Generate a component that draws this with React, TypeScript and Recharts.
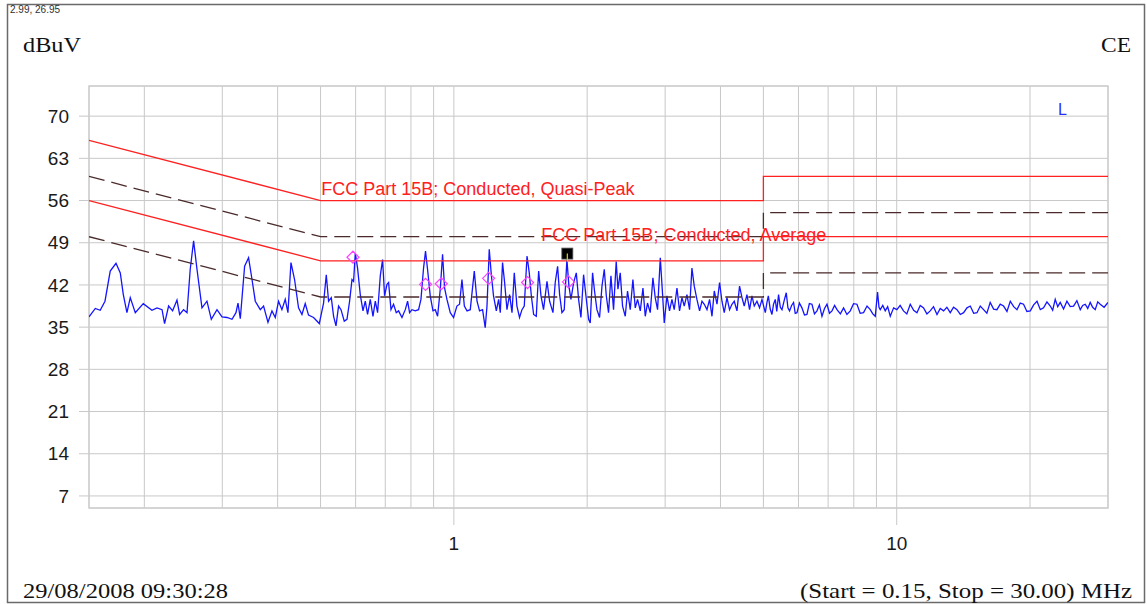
import React from 'react'
import {
  ComposedChart,
  Line,
  Scatter,
  XAxis,
  YAxis,
  CartesianGrid,
  ReferenceArea,
  ReferenceDot,
} from 'recharts'

// measured trace, [MHz, dBuV]
const sweepLow: [number, number][] = [
  [0.150, 36.7], [0.155, 38.1], [0.159, 37.8], [0.163, 39.3], [0.1675, 44.3], [0.1726, 45.6],
  [0.1765, 44.0], [0.1793, 40.4], [0.1827, 37.4], [0.1859, 39.9], [0.1908, 37.4], [0.1989, 38.9],
  [0.2081, 37.8], [0.2136, 38.2], [0.2193, 37.9], [0.2222, 35.6], [0.2269, 38.5], [0.2317, 37.7],
  [0.2370, 39.5], [0.2403, 37.1], [0.2453, 37.9], [0.2497, 37.4], [0.2539, 44.6], [0.2584, 49.3],
  [0.2630, 44.6], [0.2699, 38.2], [0.2770, 39.3], [0.2833, 36.3], [0.2918, 37.9], [0.2995, 36.7],
  [0.3074, 36.6], [0.3155, 36.3], [0.3221, 37.4], [0.3255, 39.0], [0.3294, 36.4], [0.3369, 45.1],
  [0.3439, 46.5], [0.3501, 42.9], [0.3561, 39.3], [0.3655, 37.9], [0.3718, 38.5], [0.3804, 35.8],
  [0.3884, 37.7], [0.3951, 36.6], [0.4019, 39.3], [0.4090, 37.9], [0.4161, 39.6], [0.4220, 37.4],
  [0.4287, 45.7], [0.4368, 42.9], [0.4459, 38.2], [0.4539, 37.1], [0.4617, 38.9], [0.4697, 37.0],
  [0.4822, 36.6], [0.4967, 35.6],
]

const sweepMid: [number, number][] = [
  [0.5079, 39.0], [0.5151, 43.7], [0.5213, 39.3], [0.5287, 39.9], [0.5351, 36.8], [0.5418, 35.2],
  [0.5491, 38.5], [0.5561, 37.9], [0.5656, 36.0], [0.5736, 36.3], [0.5815, 39.3], [0.5888, 42.9],
  [0.5937, 42.6], [0.5990, 47.3], [0.6061, 44.8], [0.6147, 40.4], [0.6234, 37.7], [0.6309, 39.3],
  [0.6385, 37.1], [0.6475, 39.6], [0.6567, 36.8], [0.6646, 39.3], [0.6726, 37.4], [0.6821, 43.5],
  [0.6903, 46.2], [0.6975, 40.2], [0.7063, 42.1], [0.7122, 42.4], [0.7211, 37.9], [0.7308, 38.8],
  [0.7412, 37.4], [0.7501, 37.7], [0.7635, 36.6], [0.7768, 37.9], [0.7862, 39.3], [0.7943, 37.4],
  [0.8043, 37.9], [0.8180, 37.7], [0.8323, 37.9], [0.8427, 39.6], [0.8542, 44.8], [0.8630, 47.6],
  [0.8721, 44.6], [0.8844, 40.2], [0.8970, 37.7], [0.9078, 37.9], [0.9189, 36.8], [0.9318, 41.3],
  [0.9430, 47.1], [0.9528, 41.5], [0.9647, 39.6], [0.9815, 37.4], [0.9984, 36.6], [1.016, 38.5],
  [1.030, 38.8], [1.043, 42.9], [1.056, 38.5], [1.071, 37.7], [1.089, 37.9], [1.112, 44.3],
  [1.128, 39.3], [1.143, 37.7], [1.161, 37.9], [1.177, 34.9], [1.188, 38.5], [1.202, 47.9],
  [1.215, 43.7], [1.229, 40.2], [1.247, 37.7], [1.262, 39.6], [1.273, 37.4], [1.288, 45.7],
  [1.302, 42.4], [1.318, 37.9], [1.336, 40.4], [1.353, 37.4], [1.369, 44.0], [1.388, 38.5],
  [1.407, 36.6], [1.425, 37.9], [1.442, 38.5], [1.463, 46.8], [1.480, 44.0], [1.496, 40.2],
  [1.514, 37.1], [1.535, 36.8], [1.554, 44.3], [1.573, 40.2], [1.594, 37.9], [1.623, 42.6],
  [1.645, 39.3], [1.674, 37.4], [1.694, 42.4], [1.715, 45.1], [1.733, 40.4], [1.754, 37.4],
  [1.775, 37.9], [1.800, 46.2], [1.819, 41.8], [1.838, 39.6], [1.864, 42.4], [1.890, 44.0],
  [1.913, 39.6], [1.936, 36.6], [1.963, 43.7], [1.987, 40.2], [2.015, 36.3], [2.032, 35.7],
  [2.057, 44.0], [2.078, 41.0], [2.104, 37.9], [2.133, 36.6], [2.160, 41.8], [2.186, 44.6],
  [2.209, 40.2], [2.235, 37.4], [2.263, 43.5], [2.294, 37.9], [2.326, 45.9], [2.347, 41.3],
  [2.375, 44.0], [2.404, 38.5], [2.438, 36.8], [2.467, 41.0], [2.502, 37.9], [2.537, 42.9],
  [2.568, 38.2], [2.599, 39.6], [2.636, 37.7], [2.673, 41.5], [2.705, 36.8], [2.737, 39.0],
  [2.776, 37.4], [2.815, 43.2], [2.849, 39.9], [2.884, 37.9], [2.925, 46.5], [2.955, 41.3],
  [2.986, 35.7], [3.028, 40.2], [3.069, 37.7], [3.108, 39.6], [3.145, 37.9], [3.190, 41.5],
  [3.233, 37.7], [3.274, 39.9], [3.313, 38.5], [3.360, 40.4], [3.406, 37.9], [3.448, 44.8],
  [3.490, 41.8], [3.539, 39.6], [3.588, 37.7], [3.633, 39.3], [3.677, 38.8], [3.729, 37.9],
  [3.780, 39.6], [3.827, 36.8], [3.873, 41.0], [3.928, 38.8], [3.981, 42.4], [4.031, 39.3],
  [4.079, 37.4], [4.137, 39.9], [4.193, 37.9], [4.246, 38.8], [4.297, 39.3], [4.358, 37.7],
  [4.417, 41.8], [4.473, 39.9], [4.526, 38.5], [4.590, 40.4], [4.653, 37.9], [4.711, 40.2],
  [4.768, 38.5], [4.835, 39.3], [4.901, 38.2], [4.963, 39.6],
]

const sweepHigh: [number, number][] = [
  [5.05, 37.4], [5.09, 39.0], [5.13, 40.2], [5.18, 38.0], [5.228, 37.1], [5.27, 38.8],
  [5.318, 39.6], [5.36, 37.6], [5.41, 40.4], [5.46, 38.3], [5.507, 37.9], [5.57, 39.4],
  [5.631, 40.7], [5.68, 38.2], [5.728, 37.7], [5.79, 38.6], [5.849, 39.1], [5.90, 37.3],
  [5.954, 37.4], [6.03, 39.0], [6.109, 38.2], [6.19, 37.0], [6.270, 37.1], [6.35, 38.9],
  [6.436, 38.8], [6.52, 37.2], [6.606, 37.7], [6.69, 38.7], [6.780, 36.8], [6.87, 38.1],
  [6.959, 38.8], [7.05, 37.3], [7.143, 37.7], [7.24, 38.6], [7.331, 37.9], [7.46, 37.2],
  [7.586, 38.2], [7.72, 37.1], [7.855, 37.7], [7.99, 38.9], [8.133, 38.8], [8.27, 37.3],
  [8.417, 37.4], [8.57, 38.5], [8.716, 37.9], [8.83, 37.2], [8.945, 36.8], [9.052, 40.8],
  [9.12, 38.3], [9.180, 37.9], [9.30, 38.6], [9.421, 37.7], [9.54, 38.4], [9.670, 36.8],
  [9.84, 38.2], [10.01, 37.9], [10.18, 38.6], [10.36, 37.7], [10.54, 37.2], [10.73, 38.8],
  [10.92, 37.8], [11.11, 37.4], [11.30, 38.6], [11.50, 38.2], [11.70, 37.2], [11.90, 37.7],
  [12.11, 38.4], [12.33, 37.1], [12.54, 38.1], [12.76, 37.7], [12.98, 38.3], [13.21, 37.4],
  [13.44, 38.3], [13.68, 37.9], [13.92, 37.1], [14.16, 37.4], [14.41, 38.2], [14.66, 38.5],
  [14.92, 37.3], [15.18, 37.4], [15.44, 38.5], [15.71, 37.9], [15.98, 37.3], [16.26, 39.1],
  [16.55, 38.0], [16.84, 37.9], [17.13, 38.8], [17.43, 38.5], [17.74, 37.6], [18.05, 39.3],
  [18.37, 38.4], [18.69, 37.9], [19.01, 39.0], [19.34, 38.8], [19.68, 37.6], [20.03, 37.7],
  [20.38, 38.7], [20.74, 39.3], [21.10, 37.9], [21.46, 38.2], [21.84, 39.2], [22.22, 38.5],
  [22.50, 37.8], [22.80, 39.6], [23.10, 38.4], [23.40, 39.1], [23.81, 38.0], [24.23, 39.3],
  [24.65, 38.4], [25.08, 38.5], [25.52, 39.4], [25.97, 37.9], [26.30, 38.6], [26.65, 38.8],
  [27.00, 38.1], [27.35, 39.1], [27.70, 38.3], [28.07, 37.9], [28.44, 39.2], [28.81, 38.8],
  [29.40, 38.3], [30.0, 39.1],
]

// FCC Part 15B conducted limits and their -6 dB margin lines
const qpLimit: [number, number][] = [[0.15, 66], [0.5, 56], [5, 56], [5, 60], [30, 60]]
const qpMargin: [number, number][] = [[0.15, 60], [0.5, 50], [5, 50], [5, 54], [30, 54]]
const avLimit: [number, number][] = [[0.15, 56], [0.5, 46], [5, 46], [5, 50], [30, 50]]
const avMargin: [number, number][] = [[0.15, 50], [0.5, 40], [5, 40], [5, 44], [30, 44]]

const peakMarks: [number, number][] = [
  [0.5918, 46.6], [0.863, 42.1], [0.9365, 42.2], [1.198, 43.1], [1.467, 42.4], [1.815, 42.5],
]
const cursorMark: [number, number][] = [[1.804, 47.2]]

const freqGrid = [0.2, 0.3, 0.4, 0.5, 0.6, 0.7, 0.8, 0.9, 1, 2, 3, 4, 5, 6, 7, 8, 9, 10, 20]
const freqLabels = [1, 10]
const levelTicks = [7, 14, 21, 28, 35, 42, 49, 56, 63, 70]

const qpLabelAt: [number, number] = [0.502, 56]
const avLabelAt: [number, number] = [1.576, 50]

const toPts = (arr: [number, number][]) => arr.map(([f, v]) => ({ f, v }))

const sans = '"Liberation Sans", Arial, sans-serif'
const serif = '"Liberation Serif", "Times New Roman", serif'
const gridColor = '#c8c8c8'
const marginColor = '#4a2a2a'

function FreqTick(props: any) {
  const { x, y, payload } = props
  if (!freqLabels.includes(payload.value)) return <g />
  return (
    <g>
      <line x1={x} y1={y} x2={x} y2={y + 17} stroke={gridColor} />
      <text x={x} y={y + 29} dy="0.71em" textAnchor="middle" fontSize={19} fill="#1a1a1a" fontFamily={sans}>
        {payload.value}
      </text>
    </g>
  )
}

const Diamond = (p: any) => (
  <polygon
    points={`${p.cx - 6},${p.cy} ${p.cx},${p.cy - 6} ${p.cx + 6},${p.cy} ${p.cx},${p.cy + 6}`}
    fill="none"
    stroke="#ff40ff"
    strokeWidth={1.2}
  />
)

const CursorBox = (p: any) => (
  <g>
    <rect x={p.cx - 5.5} y={p.cy - 5.5} width={11} height={11} fill="#000" stroke="#555" strokeWidth={0.8} />
    <line x1={p.cx} y1={p.cy} x2={p.cx} y2={p.cy + 8} stroke="#d8d800" strokeWidth={1.2} />
  </g>
)

const limitLabel = (text: string, dy: number) => (p: any) => (
  <text x={p.cx} y={p.cy + dy} fontSize={18} fill="#ff2020" fontFamily={sans}>
    {text}
  </text>
)

export default function App() {
  const trace = toPts([...sweepLow, ...sweepMid, ...sweepHigh])

  return (
    <div style={{ position: 'absolute', left: 0, top: 0, width: 1147, height: 604, background: '#fff' }}>
      <ComposedChart width={1147} height={604} margin={{ top: 86, right: 39, bottom: 36, left: 29 }}>
        <CartesianGrid stroke={gridColor} />
        <XAxis
          dataKey="f"
          type="number"
          scale="log"
          domain={[0.15, 30]}
          allowDataOverflow
          ticks={freqGrid}
          interval={0}
          height={60}
          tickSize={0}
          tickMargin={0}
          tickLine={false}
          axisLine={false}
          tick={<FreqTick />}
        />
        <YAxis
          type="number"
          domain={[5, 75]}
          allowDataOverflow
          ticks={levelTicks}
          interval={0}
          width={60}
          tickSize={10}
          tickMargin={10}
          tickLine={{ stroke: gridColor }}
          axisLine={false}
          tick={{ fontSize: 19, fill: '#1a1a1a', fontFamily: sans }}
        />
        <ReferenceArea x1={0.15} x2={30} y1={5} y2={75} fill="none" stroke="#d0d0d0" strokeWidth={1.5} />

        <Line data={trace} dataKey="v" type="linear" stroke="#1414ff" strokeWidth={1.3} dot={false} isAnimationActive={false} />

        <Line data={toPts(qpMargin)} dataKey="v" type="linear" stroke={marginColor} strokeWidth={1.3} strokeDasharray="16 7" dot={false} isAnimationActive={false} />
        <Line data={toPts(avMargin)} dataKey="v" type="linear" stroke={marginColor} strokeWidth={1.3} strokeDasharray="16 7" dot={false} isAnimationActive={false} />
        <Line data={toPts(qpLimit)} dataKey="v" type="linear" stroke="#ff2020" strokeWidth={1.3} dot={false} isAnimationActive={false} />
        <Line data={toPts(avLimit)} dataKey="v" type="linear" stroke="#ff2020" strokeWidth={1.3} dot={false} isAnimationActive={false} />

        <Scatter data={toPts(peakMarks)} dataKey="v" shape={Diamond} isAnimationActive={false} />
        <Scatter data={toPts(cursorMark)} dataKey="v" shape={CursorBox} isAnimationActive={false} />

        <ReferenceDot x={qpLabelAt[0]} y={qpLabelAt[1]} r={1} shape={limitLabel('FCC Part 15B; Conducted, Quasi-Peak', -5.5)} />
        <ReferenceDot x={avLabelAt[0]} y={avLabelAt[1]} r={1} shape={limitLabel('FCC Part 15B; Conducted, Average', 4.5)} />
      </ComposedChart>

      <svg width={1147} height={604} style={{ position: 'absolute', left: 0, top: 0, pointerEvents: 'none' }}>
        <rect x={7.5} y={4.5} width={1137} height={598} fill="none" stroke="#6a6a6a" strokeWidth={1.5} />
        <text x={10} y={12.5} fontSize={10} fill="#303030" fontFamily={sans}>2.99, 26.95</text>
        <text x={23} y={52} fontSize={22} fill="#111" fontFamily={serif} textLength={58} lengthAdjust="spacingAndGlyphs">dBuV</text>
        <text x={1101} y={52} fontSize={22} fill="#111" fontFamily={serif} textLength={30} lengthAdjust="spacingAndGlyphs">CE</text>
        <text x={1058} y={114.5} fontSize={16} fill="#2b2bff" fontFamily={sans}>L</text>
        <text x={23} y={598} fontSize={22} fill="#111" fontFamily={serif} textLength={205} lengthAdjust="spacingAndGlyphs">29/08/2008 09:30:28</text>
        <text x={800} y={598} fontSize={22} fill="#111" fontFamily={serif} textLength={332} lengthAdjust="spacingAndGlyphs">(Start = 0.15, Stop = 30.00) MHz</text>
      </svg>
    </div>
  )
}
